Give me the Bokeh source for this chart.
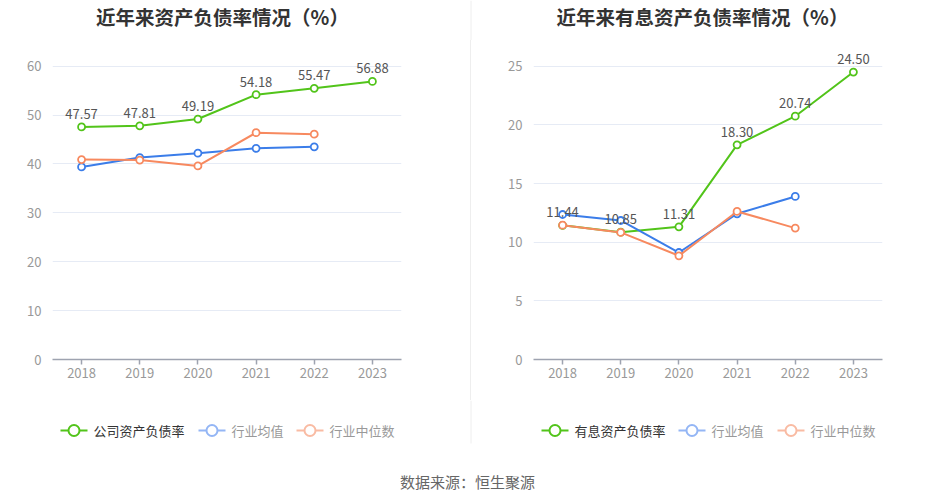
from bokeh.plotting import figure
from bokeh.models import (ColumnDataSource, LabelSet, FixedTicker, Div, Range1d)
from bokeh.layouts import row, column
from bokeh.core.properties import value
from bokeh.embed import file_html
from bokeh.resources import INLINE

years = ["2018", "2019", "2020", "2021", "2022", "2023"]

# Left chart: 资产负债率
company_debt = [47.57, 47.81, 49.19, 54.18, 55.47, 56.88]
industry_avg = [39.4, 41.3, 42.2, 43.2, 43.5]
industry_med = [40.9, 40.8, 39.6, 46.4, 46.1]

# Right chart: 有息资产负债率
company_int = [11.44, 10.85, 11.31, 18.30, 20.74, 24.50]
industry_avg_int = [12.36, 11.85, 9.12, 12.42, 13.9]
industry_med_int = [11.45, 10.83, 8.84, 12.62, 11.2]

left_ticks = [0, 10, 20, 30, 40, 50, 60]
right_ticks = [0, 5, 10, 15, 20, 25]

titles = ["近年来资产负债率情况（%）", "近年来有息资产负债率情况（%）"]
left_legend = ["公司资产负债率", "行业均值", "行业中位数"]
right_legend = ["有息资产负债率", "行业均值", "行业中位数"]
source_note = "数据来源：恒生聚源"

FONT = "Noto Sans CJK SC"
GREEN = "#52c41a"
BLUE = "#3b7de9"
ORANGE = "#f7895f"
PALE_BLUE = "#94b6f5"
PALE_ORANGE = "#f9bba3"
SEP = "#eeeeee"

W = 934
TITLE_H = 40          # page y 0..40
MID_H = 360           # page y 40..400
BOT_H = 100           # page y 400..500
FRAME_H = 319         # frame from page y 40 to 359
TOPTICK_PX = 65.7 - TITLE_H   # pixel (within frame) of the top tick line


def strip(height):
    s = figure(width=W, height=height, output_backend="svg", toolbar_location=None,
               x_range=Range1d(0, W), y_range=Range1d(height, 0), min_border=0)
    s.axis.visible = False
    s.grid.grid_line_color = None
    s.outline_line_color = None
    return s


def make_panel(comp, avg, med, yticks, width, bl, br):
    ymax = yticks[-1]
    yend = ymax * FRAME_H / (FRAME_H - TOPTICK_PX)
    p = figure(width=width, height=MID_H, output_backend="svg", toolbar_location=None,
               x_range=(-0.5, 5.5), y_range=(0, yend),
               min_border_left=bl, min_border_right=br,
               min_border_top=0, min_border_bottom=MID_H - FRAME_H)
    p.outline_line_color = None
    p.background_fill_color = "white"
    p.border_fill_color = "white"

    xs = list(range(len(years)))
    p.xaxis.ticker = FixedTicker(ticks=xs)
    p.xaxis.major_label_overrides = {i: y for i, y in enumerate(years)}
    p.xaxis.axis_line_color = "#9ea3b0"
    p.xaxis.axis_line_width = 1.5
    p.xaxis.major_tick_line_color = "#9ea3b0"
    p.xaxis.major_tick_line_width = 1.5
    p.xaxis.major_tick_out = 5
    p.xaxis.major_tick_in = 0
    p.xaxis.minor_tick_line_color = None
    p.xaxis.major_label_standoff = 3
    p.xaxis.major_label_text_color = "#999999"
    p.xaxis.major_label_text_font = FONT
    p.xaxis.major_label_text_font_size = "13px"

    p.yaxis.ticker = FixedTicker(ticks=yticks)
    p.yaxis.axis_line_color = None
    p.yaxis.major_tick_line_color = None
    p.yaxis.minor_tick_line_color = None
    p.yaxis.major_label_standoff = 5
    p.yaxis.major_label_text_color = "#999999"
    p.yaxis.major_label_text_font = FONT
    p.yaxis.major_label_text_font_size = "13px"

    p.xgrid.grid_line_color = None
    p.ygrid.ticker = FixedTicker(ticks=yticks)
    p.ygrid.grid_line_color = "#e6ebf5"
    p.ygrid.grid_line_width = 1

    avg_src = ColumnDataSource(dict(x=xs[:len(avg)], y=avg))
    med_src = ColumnDataSource(dict(x=xs[:len(med)], y=med))
    comp_src = ColumnDataSource(dict(x=xs, y=comp, t=[f"{v:.2f}" for v in comp]))

    # series order as in the source chart: company, average, median (median on top)
    p.line("x", "y", source=comp_src, color=GREEN, line_width=2)
    p.scatter("x", "y", source=comp_src, size=7, fill_color="white", line_color=GREEN, line_width=1.8)
    p.line("x", "y", source=avg_src, color=BLUE, line_width=2)
    p.scatter("x", "y", source=avg_src, size=7, fill_color="white", line_color=BLUE, line_width=1.8)
    p.line("x", "y", source=med_src, color=ORANGE, line_width=2)
    p.scatter("x", "y", source=med_src, size=7, fill_color="white", line_color=ORANGE, line_width=1.8)

    labels = LabelSet(x="x", y="y", text="t", source=comp_src, y_offset=8,
                      text_align="center", text_baseline="bottom",
                      text_font=value(FONT), text_font_size=value("13px"),
                      text_color=value("#555555"))
    p.add_layout(labels)
    return p


# title strip
top = strip(TITLE_H)
top.segment(x0=[470.5], y0=[0], x1=[470.5], y1=[TITLE_H], line_color=SEP, line_width=1)
tsrc = ColumnDataSource(dict(x=[222, 702], y=[16, 16], t=titles))
top.text(x="x", y="y", text="t", source=tsrc, text_align="center", text_baseline="middle",
         text_font=value(FONT), text_font_size=value("19.5px"), text_font_style="bold",
         text_color="#333333")

left = make_panel(company_debt, industry_avg, industry_med, left_ticks, 470, 52, 69)
right = make_panel(company_int, industry_avg_int, industry_med_int, right_ticks, 463, 62, 52)
sep = Div(width=1, height=MID_H, margin=0, styles={"background-color": SEP})

# bottom strip: legends, separator continuation, source note (pixel coordinates)
bottom = strip(BOT_H)
bottom.segment(x0=[470.5], y0=[0], x1=[470.5], y1=[43], line_color=SEP, line_width=1)

icon_x = [60, 198, 296, 541, 678, 777]
labels_all = left_legend + right_legend
icon_cols = [GREEN, PALE_BLUE, PALE_ORANGE] * 2
text_cols = ["#333333", "#999999", "#999999"] * 2
LY = 30
leg = ColumnDataSource(dict(
    x0=icon_x, x1=[x + 27 for x in icon_x], xc=[x + 13.5 for x in icon_x],
    xt=[x + 33 for x in icon_x], y=[LY] * 6,
    c=icon_cols, tc=text_cols, t=labels_all))
bottom.segment(x0="x0", y0="y", x1="x1", y1="y", source=leg, line_color="c", line_width=2)
bottom.scatter(x="xc", y="y", source=leg, size=11, fill_color="white", line_color="c", line_width=2)
bottom.text(x="xt", y="y", text="t", source=leg, text_color="tc", text_font=value(FONT),
            text_font_size=value("13px"), text_baseline="middle", text_align="left")

nsrc = ColumnDataSource(dict(x=[467], y=[81], t=[source_note]))
bottom.text(x="x", y="y", text="t", source=nsrc, text_align="center", text_baseline="middle",
            text_font=value(FONT), text_font_size=value("15px"), text_color="#666666")

layout = column(top, row(left, sep, right, spacing=0), bottom, spacing=0)

open("out.html", "w").write(file_html(layout, INLINE))
